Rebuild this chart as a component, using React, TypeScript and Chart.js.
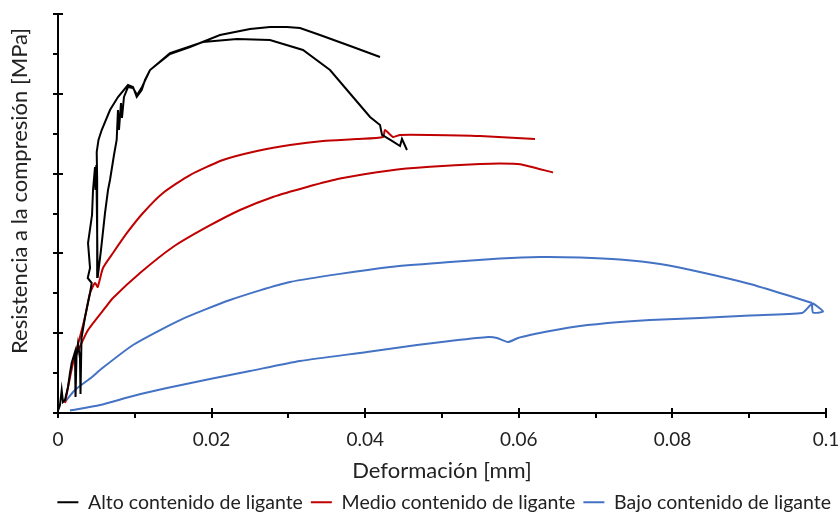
import { useEffect, useRef } from "react";
import { Chart, registerables } from "chart.js";

Chart.register(...registerables);

type P = [number, number];

const seriesNames = [
  "Alto contenido de ligante",
  "Medio contenido de ligante",
  "Bajo contenido de ligante",
];
const seriesColors = ["#000000", "#C00000", "#4472C4"];
const xTickLabels = ["0", "0.02", "0.04", "0.06", "0.08", "0.1"];

// Alto contenido: loading path + lower branch
const altoRama1: P[] = [
  [0.00004, 0.38], [0.00026, 1.0], [0.00048, 2.88], [0.00065, 1.38], [0.00091, 1.63],
  [0.0013, 3.26], [0.00156, 5.01], [0.00178, 6.27], [0.00221, 7.64], [0.00228, 2.01],
  [0.00241, 7.14], [0.0026, 8.65], [0.00286, 6.89], [0.00293, 2.38], [0.00306, 9.4],
  [0.00352, 12.03], [0.00417, 15.04], [0.00439, 16.29], [0.00387, 16.92], [0.00417, 18.17],
  [0.00391, 21.3], [0.00443, 24.81], [0.00456, 27.94], [0.00482, 30.83], [0.00488, 27.94],
  [0.00499, 31.08], [0.00517, 17.04], [0.0051, 29.2], [0.00504, 32.71], [0.00527, 34.21],
  [0.00569, 35.46], [0.00677, 37.97], [0.00781, 39.6], [0.00911, 41.1], [0.00977, 40.85],
  [0.01025, 39.6], [0.0109, 40.48], [0.01133, 41.73], [0.01198, 42.98], [0.01458, 45.11],
  [0.01888, 46.49], [0.02331, 46.87], [0.0276, 46.74], [0.0319, 45.49], [0.03542, 42.98],
  [0.03841, 39.6], [0.04063, 37.09], [0.04193, 36.09], [0.04219, 34.84], [0.04349, 34.09],
  [0.04453, 33.46], [0.04479, 34.34], [0.04544, 32.96],
];
// Alto contenido: second strand + upper branch
const altoRama2: P[] = [
  [0.00517, 17.04], [0.0056, 20.43], [0.00612, 25.06], [0.00651, 27.94], [0.00677, 29.2],
  [0.00729, 32.33], [0.00764, 34.21], [0.00781, 37.97], [0.00794, 35.46], [0.0082, 38.85],
  [0.00833, 36.97], [0.00859, 39.6], [0.00911, 40.85], [0.00977, 40.73], [0.01029, 39.85],
  [0.01094, 40.85], [0.01198, 42.98], [0.01458, 44.99], [0.01719, 45.86], [0.02109, 47.37],
  [0.025, 48.12], [0.0276, 48.37], [0.02982, 48.37], [0.03151, 48.25], [0.03411, 47.37],
  [0.03841, 45.86], [0.04193, 44.61],
];

// Medio contenido
const medioRama1: P[] = [
  [0.00091, 1.25], [0.00195, 6.27], [0.00286, 9.52], [0.00352, 12.03], [0.00417, 15.04],
  [0.00482, 16.29], [0.00517, 15.79], [0.00586, 18.17], [0.00716, 20.05], [0.00898, 22.56],
  [0.01107, 25.06], [0.01367, 27.57], [0.01719, 29.82], [0.02148, 31.7], [0.02591, 32.83],
  [0.03021, 33.58], [0.03451, 34.09], [0.03893, 34.34], [0.04232, 34.59], [0.04258, 35.46],
  [0.04362, 34.59], [0.04453, 34.84], [0.04844, 34.84], [0.05495, 34.71], [0.06211, 34.34],
];
const medioRama2: P[] = [
  [0.00221, 6.89], [0.00247, 7.52], [0.00391, 10.4], [0.00612, 13.16], [0.00716, 14.41],
  [0.01068, 17.54], [0.01497, 20.8], [0.0194, 23.31], [0.0237, 25.44], [0.02799, 27.07],
  [0.03242, 28.32], [0.03672, 29.38], [0.04323, 30.4], [0.04844, 30.85], [0.05495, 31.2],
  [0.05755, 31.27], [0.06016, 31.18], [0.06445, 30.14],
];

// Bajo contenido
const bajoRama1: P[] = [
  [0.00091, 1.38], [0.00221, 2.88], [0.00443, 4.51], [0.00547, 5.39], [0.00977, 8.52],
  [0.01589, 11.65], [0.0224, 14.16], [0.03021, 16.42], [0.04323, 18.3], [0.05104, 18.92],
  [0.05755, 19.36], [0.06276, 19.55], [0.06797, 19.49], [0.07318, 19.24], [0.07839, 18.67],
  [0.08359, 17.67], [0.0901, 16.17], [0.09531, 14.66], [0.09818, 13.78],
];
const bajoRama2: P[] = [
  [0.09818, 13.78], [0.09831, 12.59], [0.09961, 12.72], [0.09831, 13.72], [0.09792, 13.47],
  [0.09688, 12.53], [0.0901, 12.22], [0.08359, 11.9], [0.07708, 11.65], [0.07318, 11.4],
  [0.06797, 10.9], [0.06406, 10.28], [0.06146, 9.77], [0.0599, 9.4], [0.05859, 8.9],
  [0.05716, 9.4], [0.05599, 9.52], [0.05104, 9.02], [0.04674, 8.52], [0.04023, 7.64],
  [0.03151, 6.52], [0.025, 5.26], [0.01979, 4.26], [0.01419, 3.13], [0.00977, 2.13],
  [0.00547, 1.0], [0.00156, 0.31],
];

const seriesBranches: P[][][] = [
  [altoRama1, altoRama2],
  [medioRama1, medioRama2],
  [bajoRama1, bajoRama2],
];

const FONT = "Lato, 'Open Sans', sans-serif";
const W = 839;
const H = 514;
const PLOT_BOTTOM = 413;
const PAD_BOTTOM = -8;
const LEGEND_FONT = 19.5;
const LEGEND_PAD = 8;

const tickMarks = {
  id: "tickMarks",
  afterDraw(chart: any) {
    const { ctx, chartArea, scales } = chart;
    const x = scales.x;
    const y = scales.y;
    const bottom = chartArea.bottom;
    const left = chartArea.left;
    ctx.save();
    ctx.strokeStyle = "#000";
    ctx.lineWidth = 2;
    const seg = (x1: number, y1: number, x2: number, y2: number) => {
      ctx.beginPath();
      ctx.moveTo(x1, y1);
      ctx.lineTo(x2, y2);
      ctx.stroke();
    };
    const xv = x.ticks.map((t: any) => t.value);
    xv.forEach((v: number, i: number) => {
      const px = Math.round(x.getPixelForValue(v));
      seg(px, bottom - 5, px, bottom + 5);
      if (i < xv.length - 1) {
        const pm = Math.round(x.getPixelForValue((v + xv[i + 1]) / 2));
        seg(pm, bottom, pm, bottom + 5);
      }
    });
    const yv = y.ticks.map((t: any) => t.value);
    yv.forEach((v: number, i: number) => {
      const py = Math.round(y.getPixelForValue(v));
      seg(left - 5, py, left + 5, py);
      if (i < yv.length - 1) {
        const pm = Math.round(y.getPixelForValue((v + yv[i + 1]) / 2));
        seg(left - 5, pm, left, pm);
      }
    });
    ctx.restore();
  },
};

export default function App() {
  const ref = useRef<HTMLCanvasElement | null>(null);

  useEffect(() => {
    if (!ref.current) return;
    const datasets = seriesNames.map((name, s) => {
      const data: { x: number | null; y: number | null }[] = [];
      seriesBranches[s].forEach((branch, b) => {
        if (b > 0) data.push({ x: null, y: null });
        branch.forEach(([x, y]) => data.push({ x, y }));
      });
      return {
        label: name,
        data,
        borderColor: seriesColors[s],
        backgroundColor: seriesColors[s],
        borderWidth: 2,
        pointRadius: 0,
        pointHoverRadius: 0,
        showLine: true,
        spanGaps: false,
        tension: s === 0 ? 0 : 0.2,
      };
    });

    const chart = new Chart(ref.current, {
      type: "scatter",
      data: { datasets: datasets as any },
      plugins: [tickMarks],
      options: {
        responsive: false,
        animation: false,
        layout: { padding: { left: 0, right: 0, top: 14, bottom: PAD_BOTTOM } },
        plugins: {
          tooltip: { enabled: false },
          legend: {
            position: "bottom",
            align: "end",
            fullSize: true,
            labels: {
              font: { family: FONT, size: LEGEND_FONT },
              color: "#222",
              boxWidth: 21,
              boxHeight: 2,
              padding: LEGEND_PAD,
              generateLabels: (c: any) =>
                Chart.defaults.plugins.legend.labels
                  .generateLabels(c)
                  .map((l: any) => ({ ...l, lineWidth: 0 })),
            },
          },
        },
        scales: {
          x: {
            type: "linear",
            min: 0,
            max: 0.1,
            grid: { display: false, drawTicks: false },
            border: { display: true, color: "#000", width: 2 },
            ticks: {
              stepSize: 0.02,
              padding: 15,
              maxRotation: 0,
              color: "#222",
              font: { family: FONT, size: 19 },
              callback: (_v: any, i: number) => xTickLabels[i],
            },
            title: {
              display: true,
              text: "Deformación [mm]",
              color: "#222",
              font: { family: FONT, size: 22 },
              padding: { top: 0, bottom: 0 },
            },
            afterFit: (scale: any) => {
              const legendH = LEGEND_FONT + LEGEND_PAD + 10;
              scale.height = H - PAD_BOTTOM - PLOT_BOTTOM - legendH;
              scale.paddingLeft = 0;
              scale.paddingRight = 0;
            },
          },
          y: {
            type: "linear",
            min: 0,
            max: 50,
            grid: { display: false, drawTicks: false },
            border: { display: true, color: "#000", width: 2 },
            ticks: { stepSize: 10, display: false },
            title: {
              display: true,
              text: "        Resistencia a la compresión [MPa]",
              color: "#222",
              font: { family: FONT, size: 22 },
              padding: { top: 7, bottom: 0 },
            },
            afterFit: (scale: any) => {
              scale.width = 58;
            },
          },
          margenDerecho: {
            type: "linear",
            position: "right",
            display: true,
            grid: { display: false, drawTicks: false },
            border: { display: false },
            ticks: { display: false },
            afterFit: (scale: any) => {
              scale.width = 13;
            },
          },
        },
      } as any,
    });
    return () => chart.destroy();
  }, []);

  return (
    <div style={{ position: "absolute", left: 0, top: 0, width: W, height: H, background: "#fff" }}>
      <canvas ref={ref} width={W} height={H} style={{ display: "block" }} />
    </div>
  );
}
